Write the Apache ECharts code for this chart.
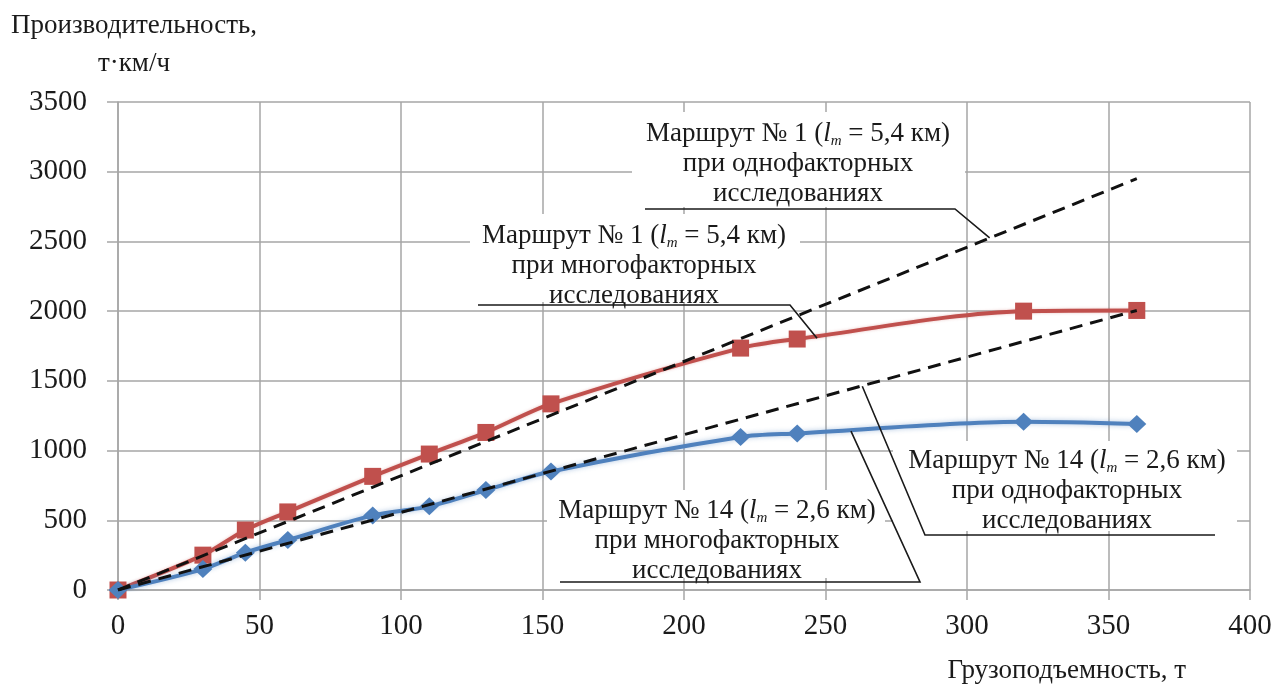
<!DOCTYPE html>
<html>
<head>
<meta charset="utf-8">
<script src="https://cdn.jsdelivr.net/npm/echarts@6/dist/echarts.min.js"></script>
<style>
  html, body { margin: 0; padding: 0; background: #fff; }
  #chart { width: 1278px; height: 689px; }
</style>
</head>
<body>
<div id="chart"></div>
<script>
(function () {
    // грузоподъемность, т
    var capacity = [0, 30, 45, 60, 90, 110, 130, 153, 220, 240, 320, 360];
    // многофакторные исследования
    var route1Multi = [0, 250, 430, 560, 815, 975, 1130, 1335, 1735, 1800, 2000, 2005];
    var route14Multi = [0, 150, 268, 358, 535, 600, 717, 850, 1098, 1123, 1206, 1190];
    // однофакторные исследования (прямые)
    var route1Single = [[0, 0], [360, 2950]];
    var route14Single = [[0, 0], [360, 2005]];

    var serif = "'Liberation Serif', 'Times New Roman', serif";
    var textColor = "#1a1a1a";
    var gridColor = "#a6a6a6";

    function pairs(xs, ys) {
        return xs.map(function (x, i) { return [x, ys[i]]; });
    }

    var myChart = echarts.init(document.getElementById("chart"));

    var option = {
        animation: false,
        grid: { left: 118, right: 28, top: 102, bottom: 99, containLabel: false, outerBoundsMode: "none" },
        xAxis: {
            type: "value",
            min: 0,
            max: 400,
            interval: 50,
            name: "Грузоподъемность, т",
            nameLocation: "end",
            nameGap: -64,
            nameTextStyle: {
                fontFamily: serif, fontSize: 27, color: textColor,
                align: "right", verticalAlign: "top", padding: [67, 0, 0, 0]
            },
            axisLine: { show: true, lineStyle: { color: gridColor, width: 1.5 } },
            axisTick: { show: true, length: 10, lineStyle: { color: gridColor, width: 1.5 } },
            axisLabel: { margin: 22, fontFamily: serif, fontSize: 29, color: textColor },
            splitLine: { show: true, lineStyle: { color: gridColor, width: 1.5 } }
        },
        yAxis: {
            type: "value",
            min: 0,
            max: 3500,
            interval: 500,
            name: "Производительность,\nт·км/ч",
            nameLocation: "end",
            nameGap: 19,
            nameTextStyle: {
                fontFamily: serif, fontSize: 27, color: textColor,
                align: "center", lineHeight: 38, padding: [0, 0, 0, 32]
            },
            axisLine: { show: true, lineStyle: { color: gridColor, width: 1.5 } },
            axisTick: { show: true, length: 11, lineStyle: { color: gridColor, width: 1.5 } },
            axisLabel: {
                margin: 31, fontFamily: serif, fontSize: 29, color: textColor,
                formatter: function (v) { return String(v); }
            },
            splitLine: { show: true, lineStyle: { color: gridColor, width: 1.5 } }
        },
        series: [
            {
                name: "Маршрут № 1 многофакторные",
                type: "line",
                data: pairs(capacity, route1Multi),
                smooth: 0.3,
                symbol: "rect",
                symbolSize: 17,
                itemStyle: { color: "#c0504d" },
                lineStyle: { color: "#c0504d", width: 4, shadowColor: "rgba(192,80,77,0.35)", shadowBlur: 3 },
                z: 3
            },
            {
                name: "Маршрут № 14 многофакторные",
                type: "line",
                data: pairs(capacity, route14Multi),
                smooth: 0.3,
                symbol: "diamond",
                symbolSize: [19, 18],
                itemStyle: { color: "#4f81bd" },
                lineStyle: { color: "#4f81bd", width: 4, shadowColor: "rgba(79,129,189,0.45)", shadowBlur: 5 },
                z: 3
            },
            {
                name: "Маршрут № 1 однофакторные",
                type: "line",
                data: route1Single,
                symbol: "none",
                lineStyle: { color: "#111", width: 3, type: [13, 8] },
                z: 4
            },
            {
                name: "Маршрут № 14 однофакторные",
                type: "line",
                data: route14Single,
                symbol: "none",
                lineStyle: { color: "#111", width: 3, type: [13, 8] },
                z: 4
            }
        ]
    };
    myChart.setOption(option);

    // подписи с выносками: текст в пикселях, точка выноски в координатах данных
    var notes = [
        {
            text: "Маршрут № 1 ({i|l}{s|m} = 5,4 км)\nпри однофакторных\nисследованиях",
            cx: 798, top: 119, box: [632, 112, 333, 95],
            line: [645, 955, 209], from: "end", anchor: [308, 2525]
        },
        {
            text: "Маршрут № 1 ({i|l}{s|m} = 5,4 км)\nпри многофакторных\nисследованиях",
            cx: 634, top: 221, box: [470, 214, 330, 88],
            line: [478, 790, 305], from: "end", anchor: [247, 1805]
        },
        {
            text: "Маршрут № 14 ({i|l}{s|m} = 2,6 км)\nпри однофакторных\nисследованиях",
            cx: 1067, top: 446, box: [893, 441, 344, 90],
            line: [925, 1215, 535], from: "start", anchor: [263, 1461]
        },
        {
            text: "Маршрут № 14 ({i|l}{s|m} = 2,6 км)\nпри многофакторных\nисследованиях",
            cx: 717, top: 496, box: [547, 490, 338, 88],
            line: [560, 920, 582], from: "end", anchor: [259, 1140]
        }
    ];

    var graphics = [];
    notes.forEach(function (n) {
        var p = myChart.convertToPixel({ gridIndex: 0 }, n.anchor);
        graphics.push({
            type: "rect",
            shape: { x: n.box[0], y: n.box[1], width: n.box[2], height: n.box[3] },
            style: { fill: "#fff" },
            z: 1
        });
        graphics.push({
            type: "text",
            x: n.cx,
            y: n.top,
            z: 5,
            style: {
                text: n.text,
                fill: textColor,
                fontFamily: serif,
                fontSize: 27,
                lineHeight: 30,
                align: "center",
                verticalAlign: "top",
                rich: {
                    i: { fontFamily: serif, fontSize: 27, fontStyle: "italic", fill: textColor, lineHeight: 30 },
                    s: { fontFamily: serif, fontSize: 15, fontStyle: "italic", fill: textColor, verticalAlign: "bottom", lineHeight: 15 }
                }
            }
        });
        var pts = n.from === "end"
            ? [[n.line[0], n.line[2]], [n.line[1], n.line[2]], p]
            : [p, [n.line[0], n.line[2]], [n.line[1], n.line[2]]];
        graphics.push({
            type: "polyline",
            shape: { points: pts },
            style: { stroke: "#1a1a1a", lineWidth: 1.6, fill: null },
            z: 5
        });
    });
    myChart.setOption({ graphic: graphics });
})();
</script>
</body>
</html>
